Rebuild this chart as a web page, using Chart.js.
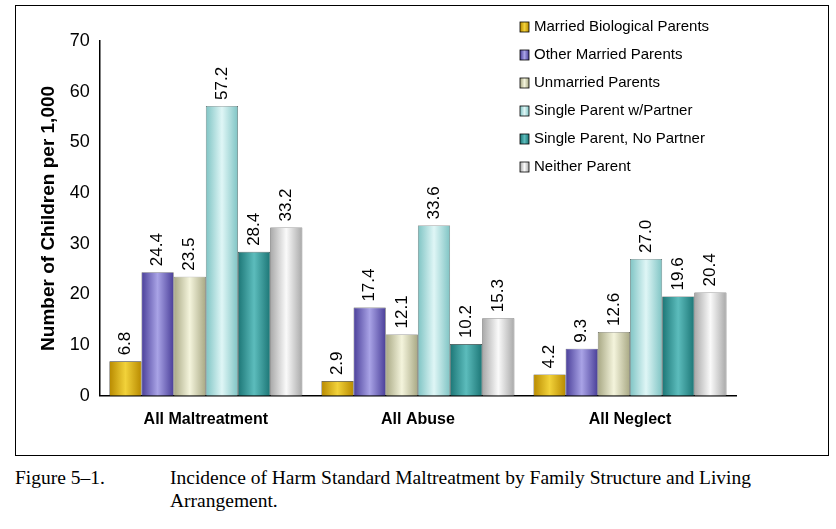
<!DOCTYPE html>
<html><head><meta charset="utf-8">
<script src="https://cdn.jsdelivr.net/npm/chart.js@4/dist/chart.umd.min.js"></script>
<style>
body{margin:0;background:#fff;}
#box{position:absolute;left:15px;top:5px;width:812px;height:449px;border:1px solid #000;}
#cap{position:absolute;left:15px;top:466px;font-family:"Liberation Serif",serif;font-size:19.5px;line-height:23px;color:#000;}
#cap .n{position:absolute;left:0;top:0;width:150px;}
#cap .t{margin-left:155px;width:625px;}
</style></head>
<body>
<div id="box"><canvas id="c" width="812" height="449"></canvas></div>
<div id="cap"><div class="n">Figure 5–1.</div><div class="t">Incidence of Harm Standard Maltreatment by Family Structure and Living Arrangement.</div></div>
<script>
const categories = ['All Maltreatment', 'All Abuse', 'All Neglect'];
const seriesNames = ['Married Biological Parents', 'Other Married Parents', 'Unmarried Parents',
  'Single Parent w/Partner', 'Single Parent, No Partner', 'Neither Parent'];
const seriesValues = [
  [6.8, 2.9, 4.2],
  [24.4, 17.4, 9.3],
  [23.5, 12.1, 12.6],
  [57.2, 33.6, 27.0],
  [28.4, 10.2, 19.6],
  [33.2, 15.3, 20.4]
];
// [dark edge, light middle]
const colors = [
  ['#b88a00', '#f2d23a'],
  ['#4a3f99', '#a9a3e6'],
  ['#a8a884', '#f4f4dc'],
  ['#7fc4c4', '#dff6f6'],
  ['#1c7676', '#5cbcbc'],
  ['#a8a8a8', '#fafafa']
];

// horizontal gradient per bar, needs element positions (filled after first update)
function barFill(c) {
  const i = c.datasetIndex;
  const el = c.chart.getDatasetMeta(i).data[c.dataIndex];
  if (!el || !isFinite(el.x) || !isFinite(el.width)) return colors[i][1];
  const g = c.chart.ctx.createLinearGradient(el.x - el.width / 2, 0, el.x + el.width / 2, 0);
  g.addColorStop(0, colors[i][0]);
  g.addColorStop(0.5, colors[i][1]);
  g.addColorStop(1, colors[i][0]);
  return g;
}

const barLabels = {
  id: 'barLabels',
  afterDatasetsDraw(chart) {
    const ctx = chart.ctx;
    ctx.save();
    ctx.font = '17px "Liberation Sans", Arial, sans-serif';
    ctx.fillStyle = '#000';
    ctx.textAlign = 'left';
    ctx.textBaseline = 'middle';
    chart.data.datasets.forEach((ds, i) => {
      chart.getDatasetMeta(i).data.forEach((el, j) => {
        ctx.save();
        ctx.translate(el.x, el.y - 6);
        ctx.rotate(-Math.PI / 2);
        ctx.fillText(ds.data[j].toFixed(1), 0, 0);
        ctx.restore();
      });
    });
    ctx.restore();
  }
};

const innerLegend = {
  id: 'innerLegend',
  afterDraw(chart) {
    const ctx = chart.ctx;
    ctx.save();
    ctx.font = '15px "Liberation Sans", Arial, sans-serif';
    ctx.textBaseline = 'middle';
    seriesNames.forEach((name, i) => {
      const y = 21 + i * 28;
      const x = 504;
      const g = ctx.createLinearGradient(x, 0, x + 9, 0);
      g.addColorStop(0, colors[i][0]);
      g.addColorStop(0.5, colors[i][1]);
      g.addColorStop(1, colors[i][0]);
      ctx.fillStyle = g;
      ctx.fillRect(x, y - 5, 9, 10);
      ctx.strokeStyle = '#000';
      ctx.lineWidth = 0.8;
      ctx.strokeRect(x, y - 5, 9, 10);
      ctx.fillStyle = '#000';
      ctx.fillText(name, x + 14, y);
    });
    ctx.restore();
  }
};

const chart = new Chart(document.getElementById('c'), {
  type: 'bar',
  data: {
    labels: categories,
    datasets: seriesNames.map((n, i) => ({
      label: n,
      data: seriesValues[i],
      backgroundColor: barFill,
      borderColor: '#333',
      borderWidth: 0.6,
      categoryPercentage: 0.91,
      barPercentage: 1
    }))
  },
  options: {
    responsive: false,
    animation: false,
    layout: { padding: { top: 35, right: 92, left: 15, bottom: 12 } },
    plugins: { legend: { display: false }, tooltip: { enabled: false } },
    scales: {
      x: {
        grid: { display: false, drawTicks: false },
        border: { color: '#000', width: 1.5 },
        ticks: { color: '#000', padding: 14, font: { family: '"Liberation Sans", Arial', size: 16, weight: 'bold' } }
      },
      y: {
        min: 0, max: 70,
        grid: { display: false, drawTicks: true, tickLength: 6, color: '#000' },
        border: { color: '#000', width: 1.5 },
        ticks: { stepSize: 10, color: '#000', padding: 4, font: { family: '"Liberation Sans", Arial', size: 18 } },
        title: { display: true, text: 'Number of Children per 1,000', color: '#000', padding: 6,
          font: { family: '"Liberation Sans", Arial', size: 19, weight: 'bold' } }
      }
    }
  },
  plugins: [barLabels, innerLegend]
});
chart.update();
</script>
</body></html>
